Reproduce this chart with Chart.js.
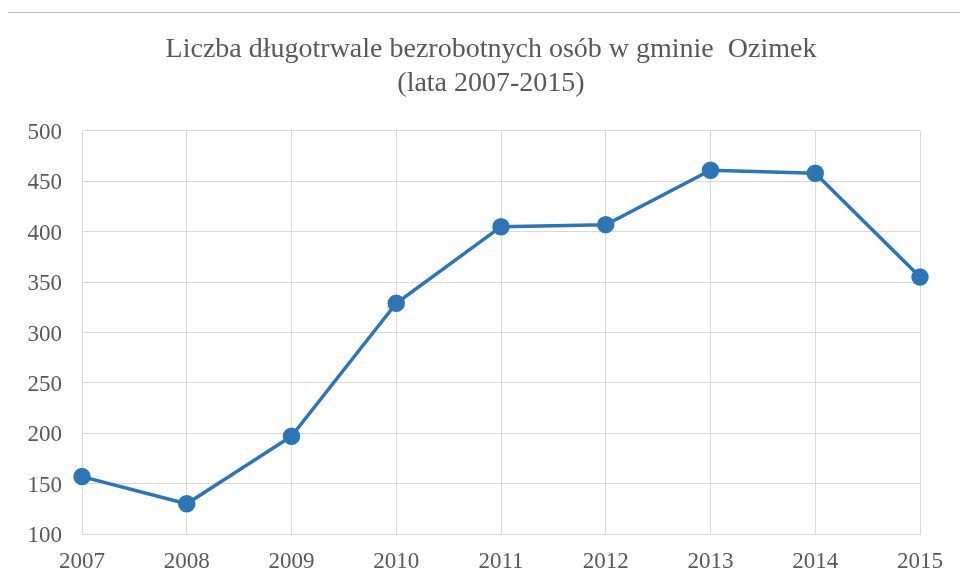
<!DOCTYPE html>
<html>
<head>
<meta charset="utf-8">
<script src="https://cdn.jsdelivr.net/npm/chart.js@4"></script>
<style>
  html, body { margin: 0; padding: 0; background: #fff; }
  #wrap { width: 960px; height: 585px; }
</style>
</head>
<body>
<div id="wrap"><canvas id="chart"></canvas></div>
<script>
const years = ['2007', '2008', '2009', '2010', '2011', '2012', '2013', '2014', '2015'];
const unemployed = [157, 130, 197, 329, 405, 407, 461, 458, 355];
const yTicks = [100, 150, 200, 250, 300, 350, 400, 450, 500];
const titleLines = ['Liczba długotrwale bezrobotnych osób w gminie  Ozimek', '(lata 2007-2015)'];

const textGrey = '#595959';
const gridGrey = '#d9d9d9';
const blue = '#2e75b6';

// thin rule across the top of the picture
const topRule = {
  id: 'topRule',
  beforeDraw(chart) {
    const { ctx } = chart;
    ctx.save();
    ctx.strokeStyle = '#bfbfbf';
    ctx.lineWidth = 1;
    ctx.beginPath();
    ctx.moveTo(8, 12.5);
    ctx.lineTo(chart.width, 12.5);
    ctx.stroke();
    ctx.restore();
  },
};

new Chart(document.getElementById('chart'), {
  type: 'line',
  data: {
    labels: years,
    datasets: [{
      label: 'Liczba osób',
      data: unemployed,
      borderColor: blue,
      backgroundColor: blue,
      borderWidth: 3.5,
      pointRadius: 7,
      pointHoverRadius: 7,
      pointBackgroundColor: blue,
      pointBorderColor: blue,
      tension: 0,
      yAxisID: 'y',
    }],
  },
  options: {
    responsive: true,
    maintainAspectRatio: false,
    animation: false,
    layout: { padding: { left: 22, right: 0, top: 0, bottom: 0 } },
    plugins: {
      legend: { display: false },
      tooltip: { enabled: false },
      title: {
        display: true,
        text: titleLines,
        color: textGrey,
        font: { family: 'Liberation Serif', size: 28, weight: 'normal', lineHeight: 1.214 },
        padding: { top: 33, bottom: 30 },
      },
    },
    scales: {
      x: {
        offset: false,
        grid: { color: gridGrey, drawTicks: false },
        border: { color: gridGrey },
        ticks: {
          color: textGrey,
          padding: 14,
          maxRotation: 0,
          autoSkip: false,
          font: { family: 'Liberation Serif', size: 23 },
        },
        afterFit(scale) { scale.height = 51; },
      },
      y: {
        min: 100,
        max: 500,
        afterBuildTicks(scale) { scale.ticks = yTicks.map((v) => ({ value: v })); },
        grid: { color: gridGrey, drawTicks: false },
        border: { color: gridGrey },
        ticks: {
          color: textGrey,
          padding: 20,
          labelOffset: 2,
          font: { family: 'Liberation Serif', size: 23 },
        },
        afterFit(scale) { scale.width = 60; },
      },
      // empty right-hand axis, only reserves the right margin
      yRight: {
        position: 'right',
        min: 100,
        max: 500,
        grid: { display: false, drawTicks: false },
        border: { display: false },
        ticks: { display: false },
        afterFit(scale) { scale.width = 40; },
      },
    },
  },
  plugins: [topRule],
});
</script>
</body>
</html>
